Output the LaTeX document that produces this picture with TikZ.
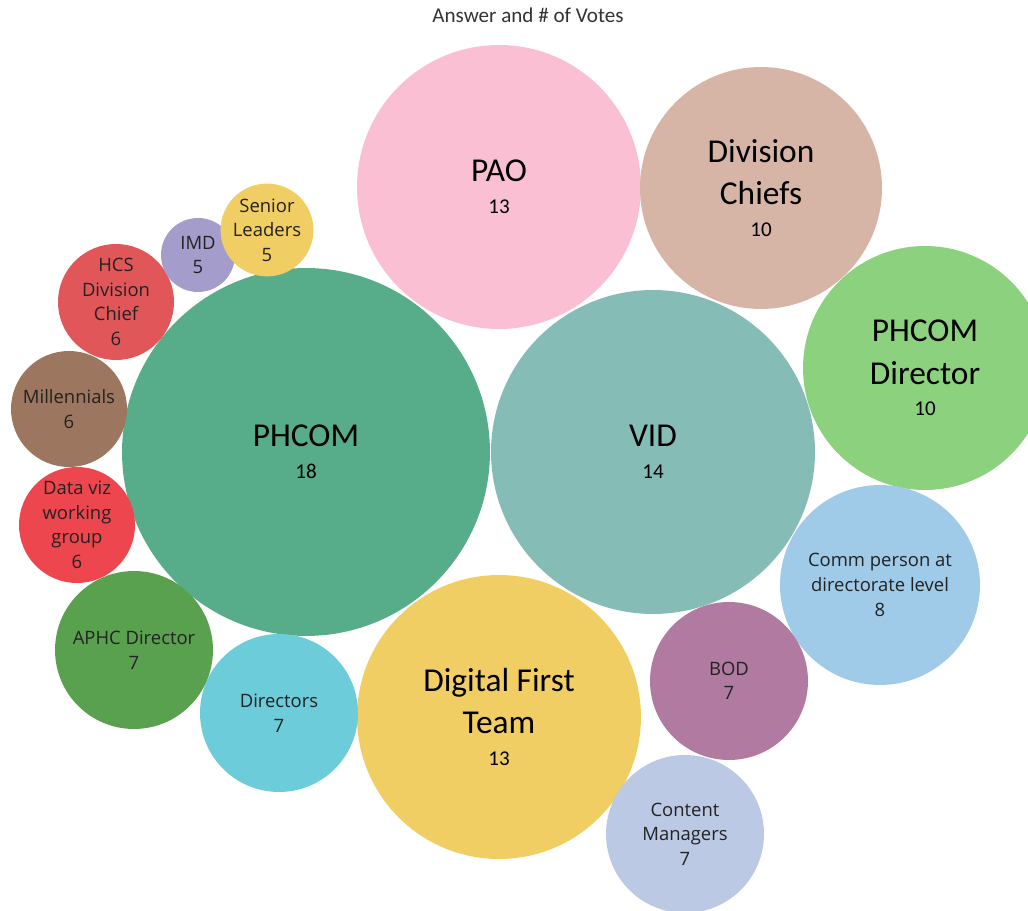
\documentclass[tikz,border=0pt]{standalone}
\usepackage{fontspec}
\setmainfont{Carlito}
\newfontfamily\tabfont{Open Sans}
\usepackage{tikz}
\definecolor{paopink}{RGB}{250,191,210}
\definecolor{chieftan}{RGB}{215,181,166}
\definecolor{dirgreen}{RGB}{140,209,125}
\definecolor{vidteal}{RGB}{134,188,182}
\definecolor{phcomgreen}{RGB}{87,173,137}
\definecolor{dftyellow}{RGB}{241,206,99}
\definecolor{commblue}{RGB}{160,203,232}
\definecolor{bodpurple}{RGB}{176,122,161}
\definecolor{contentblue}{RGB}{187,201,228}
\definecolor{dircyan}{RGB}{108,204,217}
\definecolor{aphcgreen}{RGB}{89,161,79}
\definecolor{vizred}{RGB}{237,70,78}
\definecolor{millbrown}{RGB}{157,118,96}
\definecolor{hcsred}{RGB}{225,87,89}
\definecolor{imdlilac}{RGB}{164,157,203}
\definecolor{titlegray}{RGB}{51,51,51}
\definecolor{labelgray}{RGB}{34,34,34}
\tikzstyle{bubble}=[circle,draw=none,inner sep=0pt,align=center]
\tikzstyle{big}=[font=\fontsize{19}{24}\selectfont,text=black]
\tikzstyle{small}=[font=\tabfont\fontsize{10.5}{14}\selectfont,text=labelgray]
\newcommand{\votes}[1]{{\fontsize{12}{14}\selectfont #1}}

\begin{document}
\begin{tikzpicture}[x=0.02cm,y=-0.02cm]
    \clip (0,0) rectangle (1028,911);
    \fill [white] (0,0) rectangle (1028,911);

    \node [text=titlegray, font=\fontsize{12}{14}\selectfont] (title) at (528,15) {Answer and \# of Votes};

    % large answers
    \node [style=bubble, style=big, fill=paopink, minimum size=5.68cm] (pao) at (499,187) {PAO\\[-6pt]\votes{13}};
    \node [style=bubble, style=big, fill=chieftan, minimum size=4.84cm] (divchiefs) at (761,188) {Division\\Chiefs\\[-6pt]\votes{10}};
    \node [style=bubble, style=big, fill=dirgreen, minimum size=4.88cm] (phcomdir) at (925,368) {PHCOM\\Director\\[-6pt]\votes{10}};
    \node [style=bubble, style=big, fill=vidteal, minimum size=6.48cm] (vid) at (653,452) {VID\\[-6pt]\votes{14}};
    \node [style=bubble, style=big, fill=phcomgreen, minimum size=7.36cm] (phcom) at (306,452) {PHCOM\\[-6pt]\votes{18}};
    \node [style=bubble, style=big, fill=dftyellow, minimum size=5.68cm] (dft) at (499,717) {Digital First\\Team\\[-6pt]\votes{13}};

    % small answers
    \node [style=bubble, style=small, fill=commblue, minimum size=4.0cm] (comm) at (880,585) {Comm person at\\directorate level\\8};
    \node [style=bubble, style=small, fill=bodpurple, minimum size=3.16cm] (bod) at (729,681) {BOD\\7};
    \node [style=bubble, style=small, fill=contentblue, minimum size=3.16cm] (content) at (685,834) {Content\\Managers\\7};
    \node [style=bubble, style=small, fill=dircyan, minimum size=3.16cm] (directors) at (279,713) {Directors\\7};
    \node [style=bubble, style=small, fill=aphcgreen, minimum size=3.16cm] (aphc) at (134,650) {APHC Director\\7};
    \node [style=bubble, style=small, fill=vizred, minimum size=2.32cm] (dataviz) at (77,525) {Data viz\\working\\group\\6};
    \node [style=bubble, style=small, fill=millbrown, minimum size=2.32cm] (millennials) at (69,409) {Millennials\\6};
    \node [style=bubble, style=small, fill=hcsred, minimum size=2.32cm] (hcs) at (116,302) {HCS\\Division\\Chief\\6};
    \node [style=bubble, style=small, fill=imdlilac, minimum size=1.48cm] (imd) at (198,255) {IMD\\5};
    \node [style=bubble, style=small, fill=dftyellow, minimum size=1.48cm] (senior) at (267,230) {Senior\\Leaders\\5};
\end{tikzpicture}
\end{document}
